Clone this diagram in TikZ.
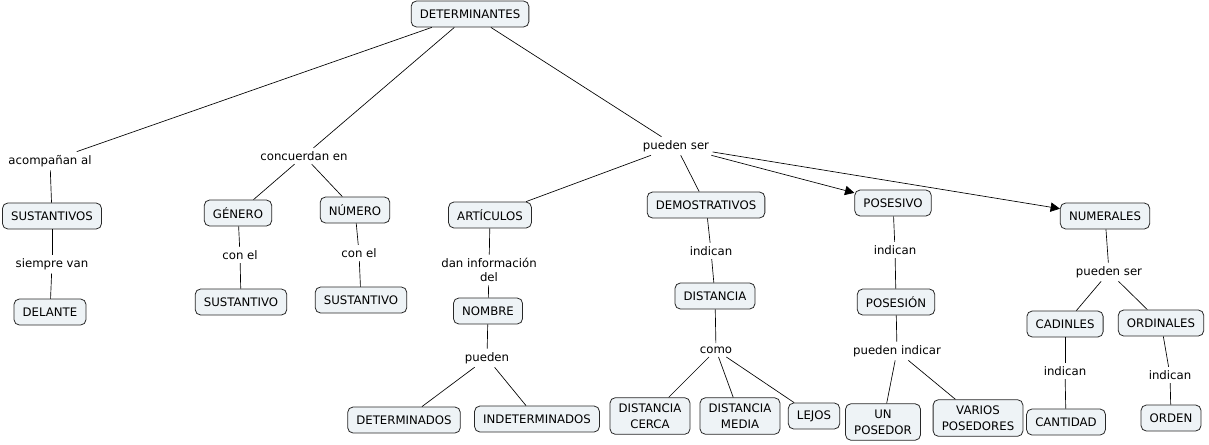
\documentclass[tikz,border=0pt]{standalone}
\usepackage{fontspec}
\setmainfont{DejaVu Sans}
\usepackage{tikz}
\usetikzlibrary{arrows.meta, positioning}
\definecolor{boxfill}{RGB}{238, 243, 246}
\definecolor{boxline}{RGB}{40, 40, 40}

\tikzset{
	concept/.style={draw=boxline, fill=boxfill, rounded corners=4pt, line width=0.6pt,
		inner xsep=6.5pt, inner ysep=4.5pt, minimum height=19.5pt, align=center,
		font=\fontsize{8.8}{11.8}\selectfont},
	linkword/.style={inner sep=2.5pt, align=center, font=\fontsize{8.8}{10.5}\selectfont},
	link/.style={line width=0.5pt, black},
	linkarrow/.style={link, -{Triangle[length=7pt, width=7pt]}}
}

\begin{document}
\begin{tikzpicture}[x=0.75pt, y=-0.75pt]
	\useasboundingbox (0,0) rectangle (1209,444);
	% concepts
	\node[concept] (det) at (470,14) {DETERMINANTES};
	\node[concept] (sus) at (52,216) {SUSTANTIVOS};
	\node[concept] (del) at (50,312) {DELANTE};
	\node[concept] (gen) at (238,213) {GÉNERO};
	\node[concept] (num) at (355,210) {NÚMERO};
	\node[concept] (susa) at (241,302) {SUSTANTIVO};
	\node[concept] (susb) at (361,300) {SUSTANTIVO};
	\node[concept] (art) at (490,215) {ARTÍCULOS};
	\node[concept] (nom) at (488,311) {NOMBRE};
	\node[concept] (dets) at (404,420) {DETERMINADOS};
	\node[concept] (indets) at (537,419) {INDETERMINADOS};
	\node[concept] (dem) at (706,205) {DEMOSTRATIVOS};
	\node[concept] (dist) at (715,296) {DISTANCIA};
	\node[concept] (cerca) at (650,416) {DISTANCIA\\CERCA};
	\node[concept] (media) at (740,416) {DISTANCIA\\MEDIA};
	\node[concept] (lejos) at (814,416) {LEJOS};
	\node[concept] (pos) at (893,203) {POSESIVO};
	\node[concept] (posn) at (896,302) {POSESIÓN};
	\node[concept] (uno) at (883,422) {UN\\POSEDOR};
	\node[concept] (varios) at (978,418) {VARIOS\\POSEDORES};
	\node[concept] (nums) at (1105,216) {NUMERALES};
	\node[concept] (card) at (1065,324) {CADINLES};
	\node[concept] (ord) at (1161,323) {ORDINALES};
	\node[concept] (cant) at (1066,422) {CANTIDAD};
	\node[concept] (orden) at (1171,418) {ORDEN};
	% linking phrases
	\node[linkword] (acomp) at (50,161) {acompañan al};
	\node[linkword] (conc) at (304,156) {concuerdan en};
	\node[linkword] (pser) at (676,146) {pueden ser};
	\node[linkword] (siem) at (52,264) {siempre van};
	\node[linkword] (cona) at (240,255) {con el};
	\node[linkword] (conb) at (359,253) {con el};
	\node[linkword] (info) at (489,270) {dan información\\del};
	\node[linkword] (pued) at (487,358) {pueden};
	\node[linkword] (inda) at (711,251) {indican};
	\node[linkword] (como) at (716,350) {como};
	\node[linkword] (indb) at (895,250) {indican};
	\node[linkword] (pind) at (897,351) {pueden indicar};
	\node[linkword] (psern) at (1109,272) {pueden ser};
	\node[linkword] (indc) at (1065,371) {indican};
	\node[linkword] (indd) at (1170,375) {indican};
	% connectors
	\draw[link] (det) -- (acomp);
	\draw[link] (det) -- (conc);
	\draw[link] (det) -- (pser);
	\draw[link] (acomp) -- (sus);
	\draw[link] (sus) -- (siem);
	\draw[link] (siem) -- (del);
	\draw[link] (conc) -- (gen);
	\draw[link] (conc) -- (num);
	\draw[link] (gen) -- (cona);
	\draw[link] (cona) -- (susa);
	\draw[link] (num) -- (conb);
	\draw[link] (conb) -- (susb);
	\draw[link] (pser) -- (art);
	\draw[link] (pser) -- (dem);
	\draw[linkarrow] (pser) -- (pos);
	\draw[linkarrow] (pser) -- (nums);
	\draw[link] (art) -- (info);
	\draw[link] (info) -- (nom);
	\draw[link] (nom) -- (pued);
	\draw[link] (pued) -- (dets);
	\draw[link] (pued) -- (indets);
	\draw[link] (dem) -- (inda);
	\draw[link] (inda) -- (dist);
	\draw[link] (dist) -- (como);
	\draw[link] (como) -- (cerca);
	\draw[link] (como) -- (media);
	\draw[link] (como) -- (lejos);
	\draw[link] (pos) -- (indb);
	\draw[link] (indb) -- (posn);
	\draw[link] (posn) -- (pind);
	\draw[link] (pind) -- (uno);
	\draw[link] (pind) -- (varios);
	\draw[link] (nums) -- (psern);
	\draw[link] (psern) -- (card);
	\draw[link] (psern) -- (ord);
	\draw[link] (card) -- (indc);
	\draw[link] (indc) -- (cant);
	\draw[link] (ord) -- (indd);
	\draw[link] (indd) -- (orden);
\end{tikzpicture}
\end{document}
